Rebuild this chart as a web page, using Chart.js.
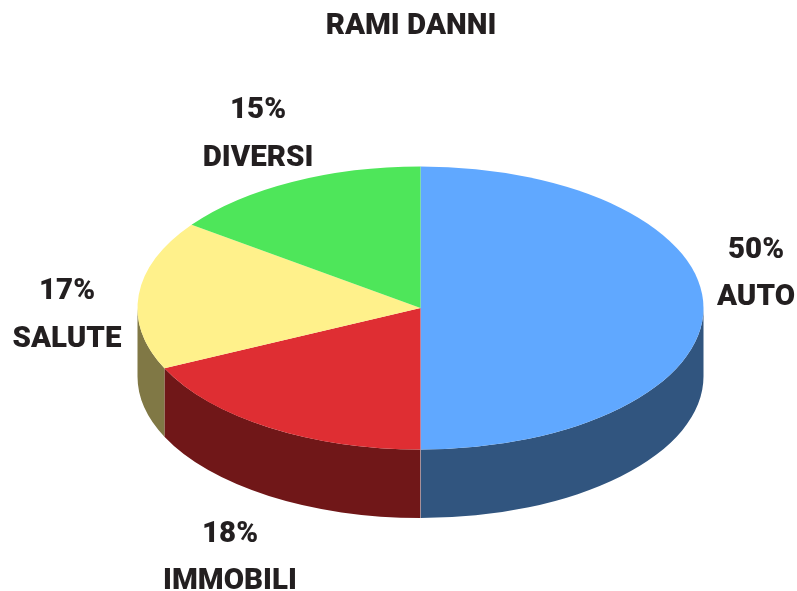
<!DOCTYPE html>
<html>
<head>
<meta charset="utf-8">
<title>Rami danni</title>
<script src="https://cdn.jsdelivr.net/npm/chart.js@4/dist/chart.umd.min.js"></script>
<style>
  html, body { margin: 0; padding: 0; background: #fff; }
  #wrap { width: 797px; height: 591px; }
</style>
</head>
<body>
<div id="wrap"><canvas id="myChart1"></canvas></div>
<script>
//------------------ data ------------------//
const CATEGORIES = ['AUTO', 'IMMOBILI', 'SALUTE', 'DIVERSI']
const PERCENT = [50, 18, 17, 15]
const TOP_COLORS = ['#60a8ff', '#df2e33', '#fff18b', '#4ee65a']
const SIDE_COLORS = ['#31557f', '#701718', '#807845', '#277230']
const TITLE = 'RAMI DANNI'
//------------------------------------------//

// pie tilt and height of the cylinder wall
const TILT = 0.5
const DEPTH = 68.5
const FONT = '900 29.5px Roboto, sans-serif'
const INK = '#231f20'

// label centres: [x of text, y of percent line, y of name line]
const LABEL_POS = [[756, 251, 298], [230, 535, 582], [67, 292, 340], [258, 111, 159]]

/*--------------------------------------------------------------------
squashes the pie into an ellipse and draws the wall under it
--------------------------------------------------------------------*/
const tiltPlugin = {
    id: 'tilt',
    beforeDatasetsDraw(chart) {
        const ctx = chart.ctx
        const arcs = chart.getDatasetMeta(0).data
        const cx = arcs[0].x
        const cy = arcs[0].y
        ctx.save()
        // only the front half of the wall can be seen (canvas angles 0..PI)
        arcs.forEach(function(arc, i) {
            const a0 = Math.max(arc.startAngle, 0)
            const a1 = Math.min(arc.endAngle, Math.PI)
            if (a1 <= a0) return
            const r = arc.outerRadius
            ctx.beginPath()
            ctx.ellipse(arc.x, arc.y, r, r * TILT, 0, a0, a1)
            ctx.ellipse(arc.x, arc.y + DEPTH, r, r * TILT, 0, a1, a0, true)
            ctx.closePath()
            ctx.fillStyle = SIDE_COLORS[i]
            ctx.fill()
        })
        // lighter seam down the front of the wall, under the blue/red edge
        const seamTop = cy + arcs[0].outerRadius * TILT
        ctx.strokeStyle = 'rgba(255,255,255,0.3)'
        ctx.lineWidth = 1
        ctx.beginPath()
        ctx.moveTo(cx, seamTop)
        ctx.lineTo(cx, seamTop + DEPTH)
        ctx.stroke()
        ctx.restore()

        ctx.save()
        ctx.translate(cx, cy)
        ctx.scale(1, TILT)
        ctx.translate(-cx, -cy)
    },
    afterDatasetsDraw(chart) {
        const ctx = chart.ctx
        ctx.restore()

        // title and labels go on top with the normal transform
        ctx.save()
        ctx.font = FONT
        ctx.fillStyle = INK
        ctx.textAlign = 'center'
        ctx.textBaseline = 'middle'
        ctx.fillText(TITLE, 411, 27)
        CATEGORIES.forEach(function(name, i) {
            const p = LABEL_POS[i]
            ctx.fillText(PERCENT[i] + '%', p[0], p[1])
            ctx.fillText(name, p[0], p[2])
        })
        ctx.restore()
    }
}

new Chart(document.getElementById('myChart1'), {
    type: 'pie',
    data: {
        labels: CATEGORIES,
        datasets: [{
            data: PERCENT,
            backgroundColor: TOP_COLORS,
            borderWidth: 0,
            radius: 283
        }]
    },
    options: {
        responsive: true,
        maintainAspectRatio: false,
        animation: false,
        layout: { padding: { left: 44, top: 25 } },
        plugins: {
            legend: { display: false },
            title: { display: false },
            tooltip: { enabled: false }
        }
    },
    plugins: [tiltPlugin]
})
</script>
</body>
</html>
